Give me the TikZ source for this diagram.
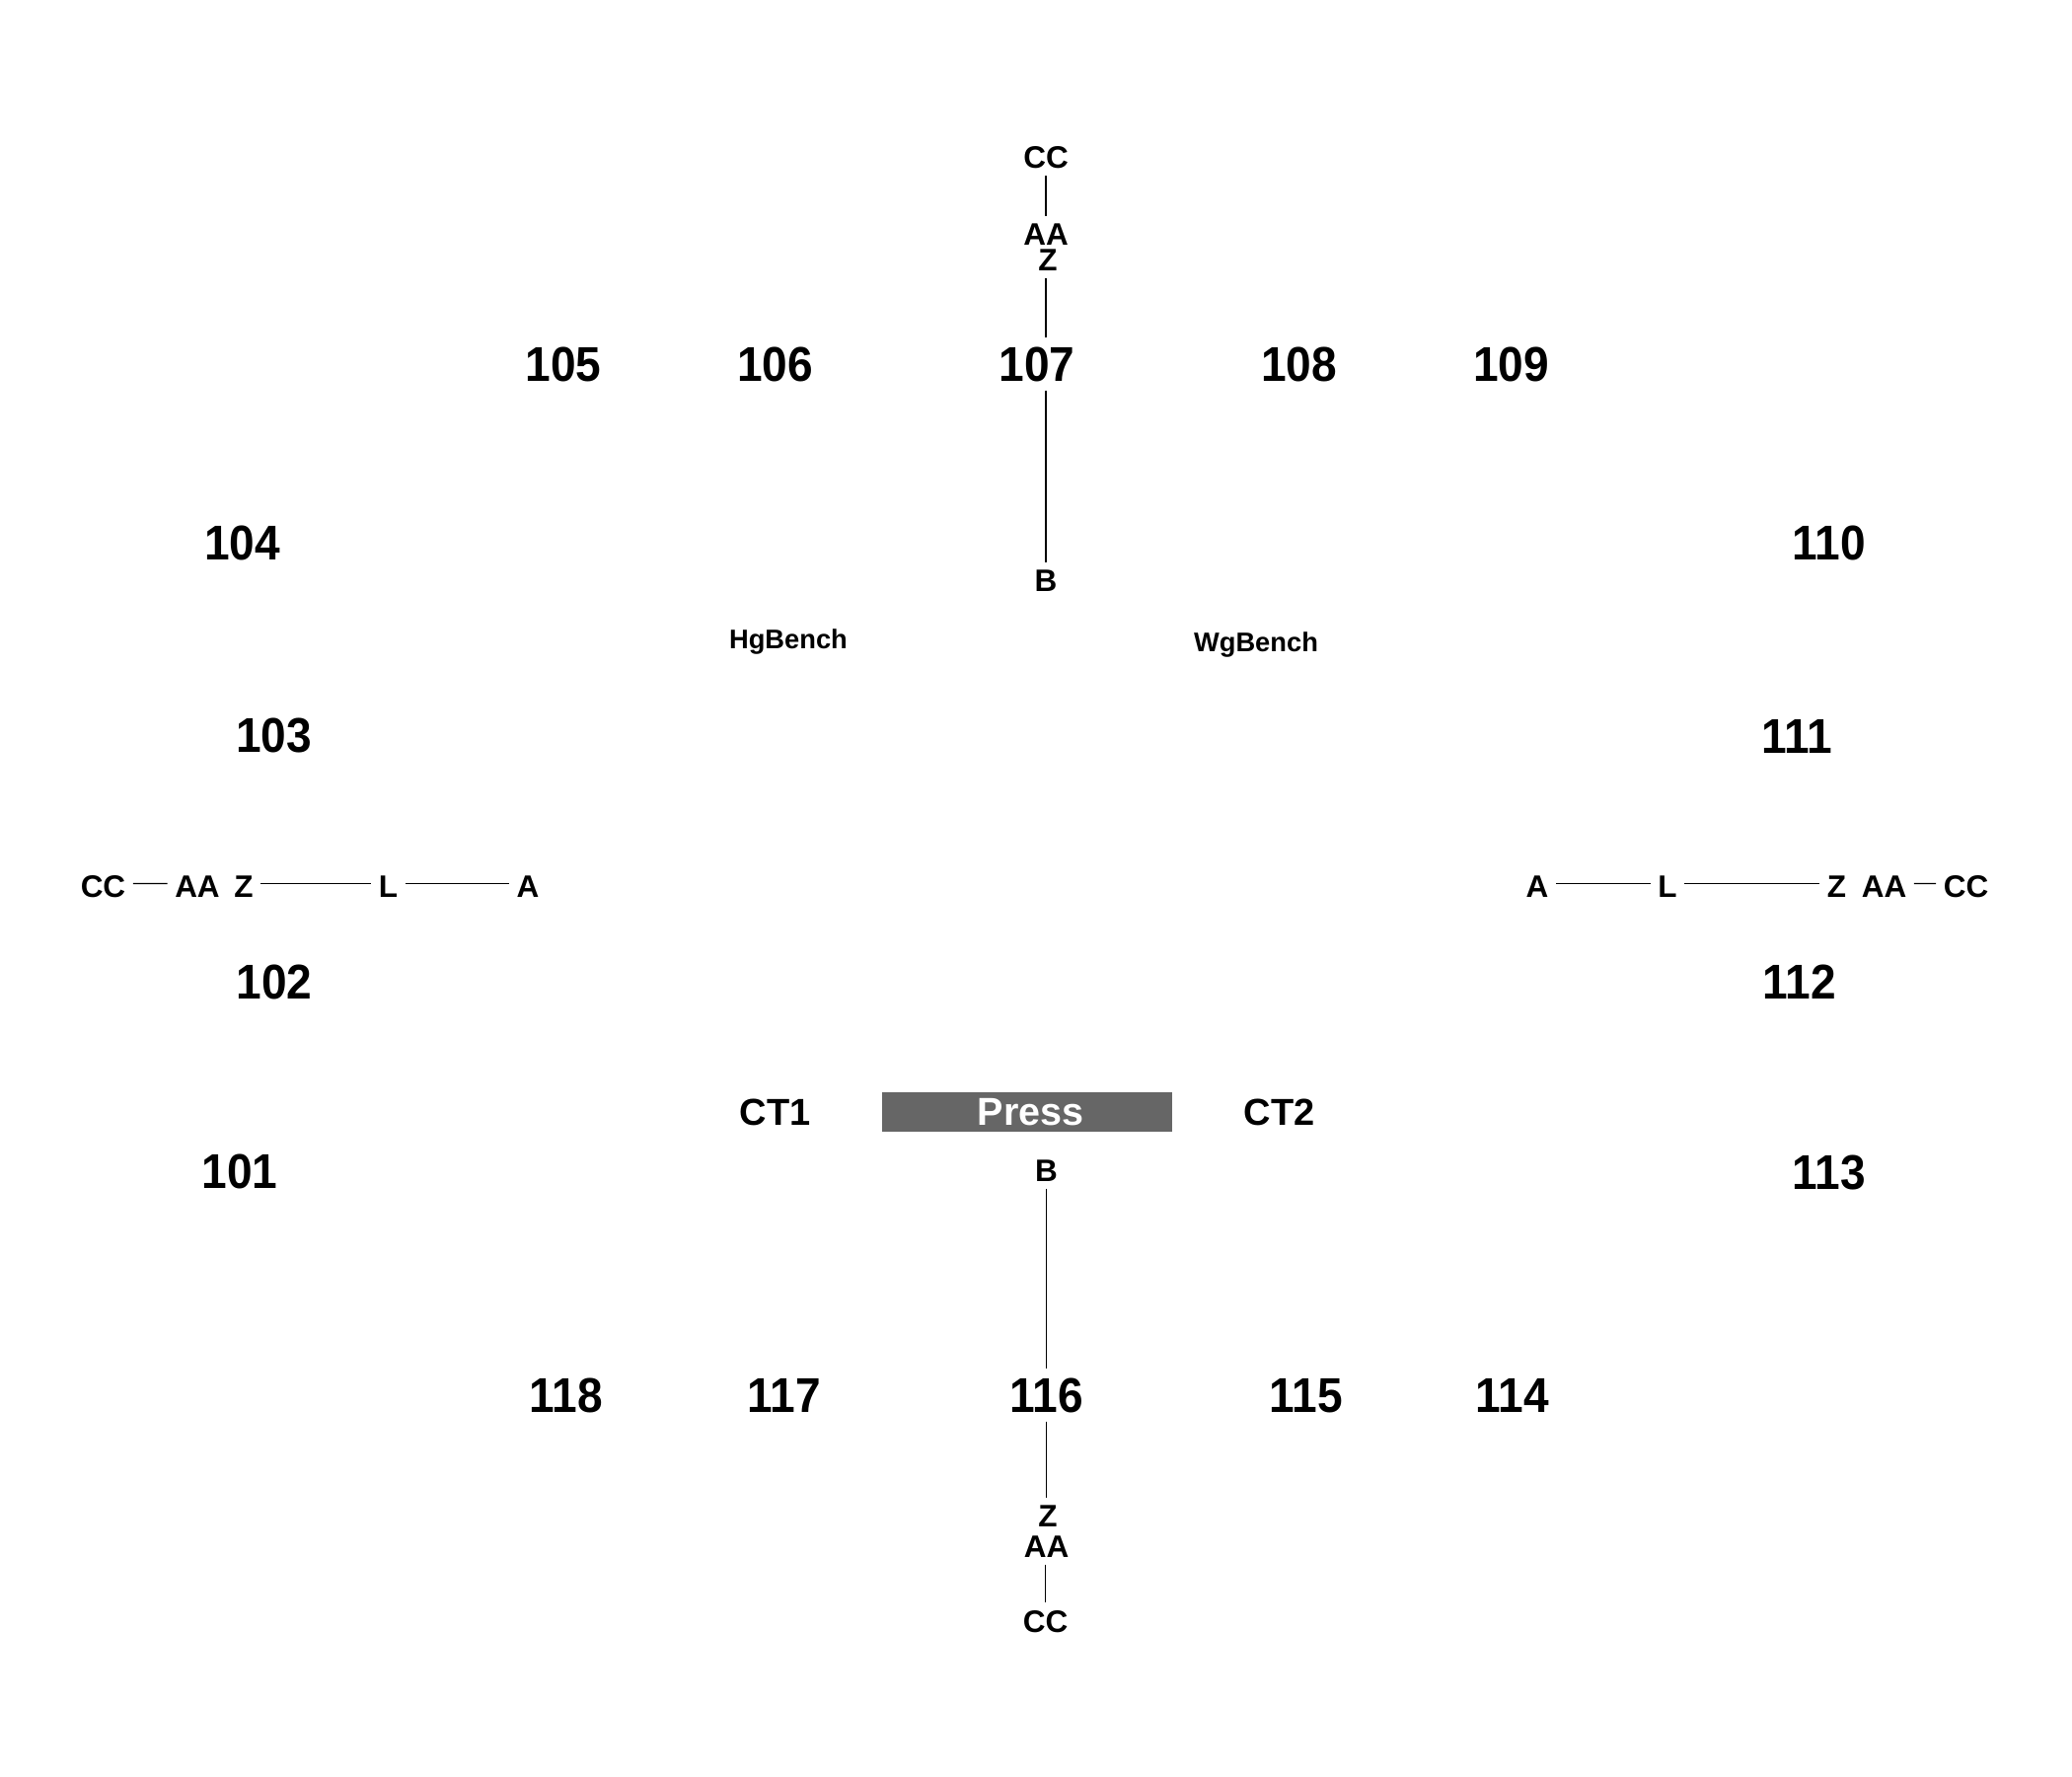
\documentclass[tikz,border=0pt]{standalone}
\usepackage{fontspec}
\setmainfont{Liberation Sans}
\newfontfamily\numfont[FakeStretch=0.93]{Liberation Sans}
\definecolor{boxgray}{HTML}{666666}
\begin{document}
\begin{tikzpicture}[x=1pt,y=-1pt,
  lbl/.style={font=\fontsize{31.5}{36}\selectfont\bfseries, anchor=base, inner sep=7.5pt},
  num/.style={font=\numfont\fontsize{49.5}{56}\selectfont\bfseries, anchor=base, inner sep=9pt},
  ct/.style={font=\fontsize{38}{44}\selectfont\bfseries, anchor=base, inner sep=2pt},
  bench/.style={font=\fontsize{27.3}{30}\selectfont\bfseries, anchor=base, inner sep=2pt},
  pressbox/.style={fill=boxgray, text=white, minimum width=294pt, minimum height=40pt,
    inner sep=0pt, font=\fontsize{39.5}{44}\selectfont\bfseries},
  conn/.style={draw=black, line width=1.4pt}]
\useasboundingbox (0,0) rectangle (2100,1800);
\fill[white] (0,0) rectangle (2100,1800);

% numbers
\node[num] (n101) at (243,1204.5) {101};
\node[num] (n102) at (278,1012.5) {102};
\node[num] (n103) at (277.5,762) {103};
\node[num] (n104) at (245.5,567) {104};
\node[num] (n105) at (571,386) {105};
\node[num] (n106) at (785.5,386) {106};
\node[num] (n107) at (1051,386) {107};
\node[num] (n108) at (1316.5,386) {108};
\node[num] (n109) at (1531.5,386) {109};
\node[num] (n110) at (1854,567) {110};
\node[num] (n111) at (1821,763) {111};
\node[num] (n112) at (1823.5,1012.5) {112};
\node[num] (n113) at (1854,1205.5) {113};
\node[num] (n114) at (1533,1431) {114};
\node[num] (n115) at (1324,1431) {115};
\node[num] (n116) at (1060.5,1431) {116};
\node[num] (n117) at (795,1431) {117};
\node[num] (n118) at (574,1431) {118};

% top chain
\node[lbl] (ccT) at (1060,170) {CC};
\node[lbl] (aaT) at (1060,248) {AA};
\node[lbl] (zT) at (1062,274) {Z};
\node[lbl] (bT) at (1060,599) {B};

% left row
\node[lbl] (ccL) at (104.5,909) {CC};
\node[lbl] (aaL) at (200,909) {AA};
\node[lbl] (zL) at (247,909) {Z};
\node[lbl] (lL) at (393.5,909) {L};
\node[lbl] (aL) at (535,909) {A};

% right row
\node[lbl] (aR) at (1558,909) {A};
\node[lbl] (lR) at (1690,909) {L};
\node[lbl] (zR) at (1861.5,909) {Z};
\node[lbl] (aaR) at (1909.5,909) {AA};
\node[lbl] (ccR) at (1992.5,909) {CC};

% bottom chain
\node[lbl] (bB) at (1060.5,1197) {B};
\node[lbl] (zB) at (1062,1547) {Z};
\node[lbl] (aaB) at (1060.5,1578) {AA};
\node[lbl] (ccB) at (1059.5,1654) {CC};

% centre
\node[bench] (hg) at (799,657) {HgBench};
\node[bench] (wg) at (1273,660) {WgBench};
\node[ct] (ct1) at (785.5,1140) {CT1};
\node[ct] (ct2) at (1296.5,1140) {CT2};
\node[pressbox] (press) at (1041,1127) {\hspace*{7pt}Press};

% connectors
\draw[conn] (ccT.south -| bT) -- (aaT.north -| bT);
\draw[conn] (zT.south -| bT) -- (n107.north -| bT);
\draw[conn] (n107.south -| bT) -- (bT.north);

\draw[conn] ([yshift=2.7pt]ccL.east) -- ([yshift=2.7pt]aaL.west);
\draw[conn] ([yshift=2.7pt]zL.east) -- ([yshift=2.7pt]lL.west);
\draw[conn] ([yshift=2.7pt]lL.east) -- ([yshift=2.7pt]aL.west);

\draw[conn] ([yshift=2.7pt]aR.east) -- ([yshift=2.7pt]lR.west);
\draw[conn] ([yshift=2.7pt]lR.east) -- ([yshift=2.7pt]zR.west);
\draw[conn] ([yshift=2.7pt]aaR.east) -- ([yshift=2.7pt]ccR.west);

\draw[conn] (bB.south) -- (n116.north -| bB);
\draw[conn] (n116.south -| bB) -- (zB.north -| bB);
\draw[conn] (aaB.south -| ccB) -- (ccB.north);
\end{tikzpicture}
\end{document}
